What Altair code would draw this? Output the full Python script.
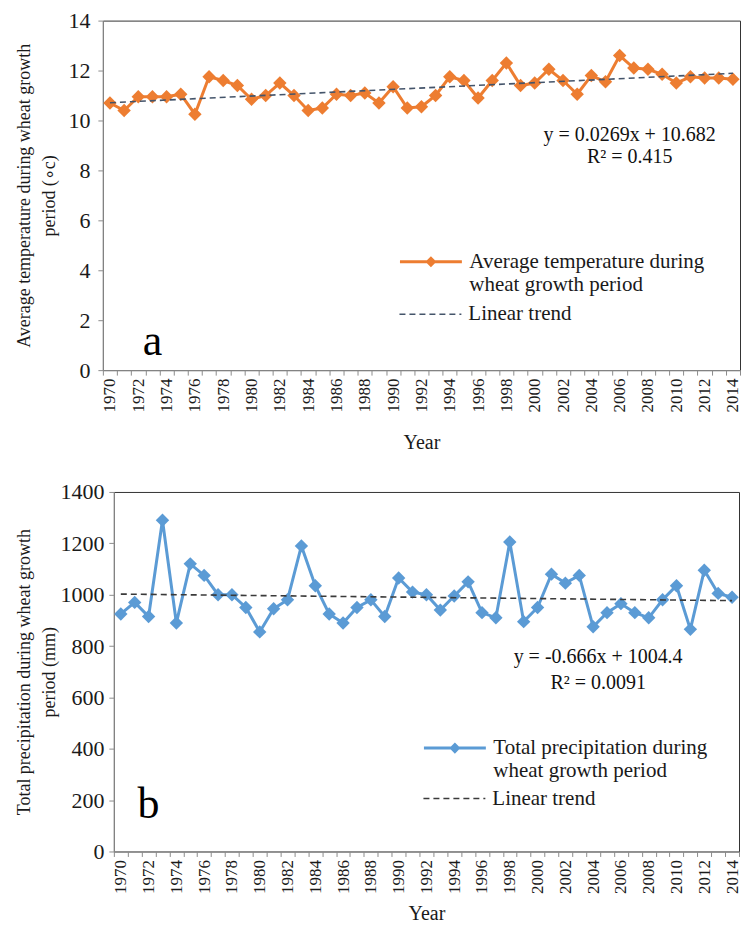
import altair as alt
import pandas as pd

# ---------------- data ----------------
years = list(range(1970, 2015))

temperature = [10.7, 10.4, 10.95, 10.95, 10.95, 11.05, 10.25, 11.75, 11.6, 11.4,
               10.85, 11.0, 11.5, 11.0, 10.4, 10.5, 11.05, 11.0, 11.1, 10.7,
               11.35, 10.5, 10.55, 11.0, 11.75, 11.6, 10.9, 11.6, 12.3, 11.4,
               11.5, 12.05, 11.6, 11.05, 11.8, 11.55, 12.6, 12.1, 12.05, 11.85,
               11.5, 11.75, 11.7, 11.7, 11.65]

precipitation = [925, 970, 915, 1290, 890, 1120, 1075, 1000, 1000, 950,
                 855, 945, 980, 1190, 1035, 925, 890, 950, 980, 915,
                 1065, 1010, 1000, 940, 995, 1050, 930, 910, 1205, 895,
                 950, 1080, 1045, 1075, 875, 930, 965, 930, 910, 980,
                 1035, 865, 1095, 1005, 990]

temp_series = "Average temperature during|wheat growth period"
prec_series = "Total precipitation  during|wheat growth period"
trend_series = "Linear trend"

temp_title = ["Average temperature during wheat growth", "period (\u2218c)"]
prec_title = ["Total precipitation during wheat growth", "period (mm)"]

temp_eq = ["y = 0.0269x + 10.682", "R\u00b2 = 0.415"]
prec_eq = ["y = -0.666x + 1004.4", "R\u00b2 = 0.0091"]

temp_ticks = [0, 2, 4, 6, 8, 10, 12, 14]
prec_ticks = [0, 200, 400, 600, 800, 1000, 1200, 1400]

# ---------------- styling / placement ----------------
FONT = "Liberation Serif"
ORANGE = "#ED7D31"
BLUE = "#5B9BD5"
DIAMOND_LINE = "M-1,0L1,0M-0.11,0L0,-0.11L0.11,0L0,0.11Z"


def spacer(w):
    return alt.Chart(pd.DataFrame({"s": [0]})).mark_point(opacity=0).encode(
        x=alt.X("s:Q", axis=None), y=alt.Y("s:Q", axis=None)
    ).properties(width=w, height=1, view=alt.ViewBackground(stroke="transparent"))


def panel(values, series, color, trend_color, y_title, y_ticks, eq, eq_pos, eq_dx,
          letter, letter_pos, width, height, title_pad, label_pad, x_title_pad,
          leg_x, leg_y, trend_leg_y):
    df = pd.DataFrame({"year": years, "value": values, "series": series})

    x = alt.X("year:O",
              scale=alt.Scale(type="band", domain=years, paddingInner=0, paddingOuter=0),
              axis=alt.Axis(title="Year", tickBand="extent",
                            labelExpr="datum.value % 2 == 0 ? datum.label : ''",
                            labelAngle=270, labelFontSize=17, labelPadding=3,
                            titleFontSize=20, titlePadding=x_title_pad))
    y = alt.Y("value:Q",
              scale=alt.Scale(domain=[y_ticks[0], y_ticks[-1]], nice=False),
              axis=alt.Axis(title=y_title, values=y_ticks, format="d", labelFontSize=22,
                            labelPadding=label_pad, titleFontSize=18, titleLineHeight=25,
                            titlePadding=title_pad))

    color_enc = alt.Color("series:N",
                          scale=alt.Scale(domain=[series], range=[color]),
                          legend=alt.Legend(title=None, orient="none", legendX=leg_x,
                                            legendY=leg_y, symbolType=DIAMOND_LINE,
                                            symbolSize=3844, symbolStrokeWidth=3,
                                            symbolFillColor=color, symbolStrokeColor=color,
                                            labelExpr="split(datum.label, '|')",
                                            labelFontSize=21, labelLimit=600,
                                            labelOffset=6, padding=0))

    base = alt.Chart(df)
    line = base.mark_line(strokeWidth=3).encode(x=x, y=y, color=color_enc)
    pts = base.mark_point(shape="diamond", filled=True, size=180, opacity=1).encode(
        x=x, y=y, color=color_enc)

    trend = (base.transform_regression("year", "value")
             .transform_calculate(series="'Linear trend'")
             .mark_line(color=trend_color, strokeWidth=1.6)
             .encode(x=x, y=y,
                     strokeDash=alt.StrokeDash(
                         "series:N",
                         scale=alt.Scale(domain=[trend_series], range=[[6, 4]]),
                         legend=alt.Legend(title=None, orient="none", legendX=leg_x,
                                           legendY=trend_leg_y, symbolType="stroke",
                                           symbolSize=3844, symbolStrokeWidth=1.5,
                                           symbolStrokeColor=trend_color,
                                           labelFontSize=21, labelOffset=6,
                                           padding=0))))

    eq_df = pd.DataFrame({"year": [eq_pos[0]] * 2, "value": eq_pos[1:], "text": eq})
    eq_text = alt.Chart(eq_df).mark_text(font=FONT, fontSize=20, color="#111",
                                         baseline="middle", dx=eq_dx).encode(
        x="year:O", y="value:Q", text="text:N")

    let_df = pd.DataFrame({"year": [letter_pos[0]], "value": [letter_pos[1]], "text": [letter]})
    let_text = alt.Chart(let_df).mark_text(font=FONT, fontSize=44, color="#000",
                                           baseline="alphabetic").encode(
        x="year:O", y="value:Q", text="text:N")

    layered = alt.layer(line, pts, trend, eq_text, let_text).properties(
        width=width, height=height)
    # a thin leading spacer lets each panel keep its own left axis extent
    return alt.hconcat(spacer(1), layered, spacing=0).resolve_scale(
        color="independent", strokeDash="independent").resolve_legend(
        color="independent", strokeDash="independent")


top = panel(temperature, temp_series, ORANGE, "#44546A", temp_title, temp_ticks,
            temp_eq, (2006, 9.43, 8.55), 10, "a", (1973, 0.6),
            638, 350, 9, 8, 20, 296, 209, 262)
bottom = panel(precipitation, prec_series, BLUE, "#3a3a3a", prec_title, prec_ticks,
               prec_eq, (2004, 758, 657), 5, "b", (1972, 129),
               626, 360, 1, 5, 10, 309, 224, 275)

chart = alt.vconcat(top, bottom, spacing=27).resolve_scale(
    color="independent", strokeDash="independent"
).resolve_legend(
    color="independent", strokeDash="independent"
).properties(
    padding={"left": 0, "top": 0, "right": 0, "bottom": 0}
).configure(font=FONT).configure_view(
    stroke="#333", strokeWidth=1
).configure_axis(
    grid=False, domainColor="#8c8c8c", tickColor="#8c8c8c", tickSize=5,
    labelColor="#1a1a1a", titleColor="#1a1a1a", titleFontWeight="normal",
    labelFont=FONT, titleFont=FONT
).configure_legend(labelFont=FONT, labelColor="#1a1a1a")

chart.save("out.html", embed_options={"renderer": "svg", "actions": False})
